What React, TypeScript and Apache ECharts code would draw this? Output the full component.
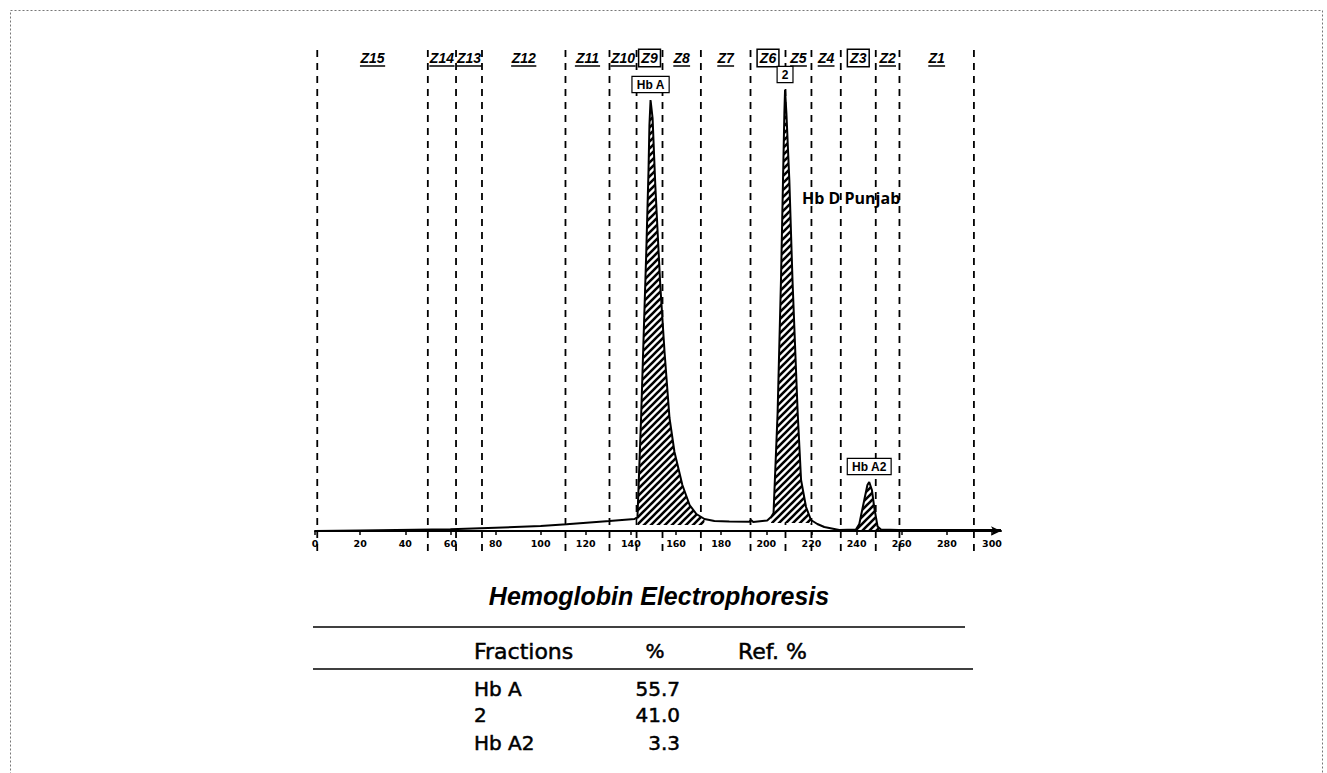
import { useEffect, useRef } from 'react';
import * as echarts from 'echarts';

// ---- data ----
const xTicks = [0, 20, 40, 60, 80, 100, 120, 140, 160, 180, 200, 220, 240, 260, 280, 300];
const zoneBounds = [1, 50, 62.5, 74, 111, 130.5, 142.5, 154, 171, 193, 208.5, 220, 233, 248.5, 259, 292];
const zoneLabels = ['Z15', 'Z14', 'Z13', 'Z12', 'Z11', 'Z10', 'Z9', 'Z8', 'Z7', 'Z6', 'Z5', 'Z4', 'Z3', 'Z2', 'Z1'];
const boxedZones = ['Z9', 'Z6', 'Z3'];

const traceX = [
  0, 20, 60, 80, 100, 111.5, 130.5, 141.6, 142.9, 144.5, 146.8, 147.8, 148.2, 148.7, 149.6, 150.8, 153.0,
  154.9, 157.1, 159.3, 162.8, 166.0, 169.0, 172.6, 177.0, 183.6, 192.5, 193.2, 194.2, 198.2, 200.4, 202.1,
  203.2, 205.0, 206.5, 207.4, 208.0, 208.3, 208.9, 210.2, 211.6, 213.9, 215.4, 217.6, 219.8, 222.6, 225.7,
  232.3, 239.7, 241.2, 243.4, 244.8, 245.6, 246.8, 247.8, 249.3, 250.8, 258.8, 304,
];
const traceY = [
  0, 0.5, 1.7, 3.3, 5, 6.7, 10, 12, 14, 113, 279, 361, 406, 431, 413, 346, 246,
  179, 113, 79, 46, 26, 17, 12, 10, 9.5, 9.3, 11, 9, 10, 10.5, 14,
  18, 118, 251, 351, 418, 441, 418, 351, 251, 118, 51, 24, 11, 7, 4,
  1, 1.5, 7, 31, 46, 49, 41, 24, 4.5, 1.5, 1, 1,
];

const peakNames = ['Hb A', '2', 'Hb A2'];
const peakStart = [142.9, 202.1, 239.7];
const peakEnd = [172.6, 219.8, 250.8];
const peakBase = [6, 8, 1];

const title = 'Hemoglobin Electrophoresis';
const variantName = 'Hb D Punjab';
const tableHeaders = ['Fractions', '%', 'Ref. %'];
const fractions = ['Hb A', '2', 'Hb A2'];
const percents = ['55.7', '41.0', '3.3'];

function makeHatch() {
  const P = 7;
  const c = document.createElement('canvas');
  c.width = P;
  c.height = P;
  const g = c.getContext('2d')!;
  g.fillStyle = '#ffffff';
  g.fillRect(0, 0, P, P);
  g.strokeStyle = '#000000';
  g.lineWidth = 2.6;
  g.beginPath();
  g.moveTo(-1, P + 1);
  g.lineTo(P + 1, -1);
  g.moveTo(-2, 2);
  g.lineTo(2, -2);
  g.moveTo(P - 2, P + 2);
  g.lineTo(P + 2, P - 2);
  g.stroke();
  return c;
}

export default function App() {
  const ref = useRef<HTMLDivElement>(null);

  useEffect(() => {
    if (!ref.current) return;
    const chart = echarts.init(ref.current, undefined, { renderer: 'svg' });
    const hatch = makeHatch();
    const trace = traceX.map((x, i) => [x, traceY[i]]);

    const fillSeries = peakNames.map((name, k) => ({
      type: 'line',
      name: name + ' fill',
      data: trace.filter((p) => p[0] >= peakStart[k] && p[0] <= peakEnd[k]),
      showSymbol: false,
      symbol: 'none',
      lineStyle: { width: 0, opacity: 0 },
      areaStyle: { color: { image: hatch, repeat: 'repeat' }, origin: peakBase[k], opacity: 1 },
      silent: true,
      z: 2,
    }));

    const peakTops = peakNames.map((name, k) => {
      const pts = trace.filter((p) => p[0] >= peakStart[k] && p[0] <= peakEnd[k]);
      let best = pts[0];
      pts.forEach((p) => {
        if (p[1] > best[1]) best = p;
      });
      return { value: [best[0], best[1]], name };
    });

    const zoneData = zoneLabels.map((l, i) => [(zoneBounds[i] + zoneBounds[i + 1]) / 2, i]);

    const heavy = { stroke: '#000', lineWidth: 0.5 };
    const rowY = [689, 715, 743];
    const tableTexts: any[] = [];
    tableTexts.push({ type: 'text', x: 474, y: 651, style: { text: tableHeaders[0], font: '22px "DejaVu Sans"', fill: '#000', ...heavy, align: 'left', verticalAlign: 'middle' } });
    tableTexts.push({ type: 'text', x: 655, y: 651, style: { text: tableHeaders[1], font: '20px "DejaVu Sans"', fill: '#000', ...heavy, align: 'center', verticalAlign: 'middle' } });
    tableTexts.push({ type: 'text', x: 738, y: 651, style: { text: tableHeaders[2], font: '22px "DejaVu Sans"', fill: '#000', ...heavy, align: 'left', verticalAlign: 'middle' } });
    fractions.forEach((f, i) => {
      tableTexts.push({ type: 'text', x: 474, y: rowY[i], style: { text: f, font: '20px "DejaVu Sans"', fill: '#000', ...heavy, align: 'left', verticalAlign: 'middle' } });
      tableTexts.push({ type: 'text', x: 680, y: rowY[i], style: { text: percents[i], font: '20px "DejaVu Sans"', fill: '#000', ...heavy, align: 'right', verticalAlign: 'middle' } });
    });

    chart.setOption({
      animation: false,
      backgroundColor: '#ffffff',
      grid: { left: 315, right: 326, top: 81, bottom: 242, containLabel: false, outerBoundsMode: 'none' },
      xAxis: {
        type: 'value',
        min: 0,
        max: 304,
        axisLine: {
          show: true,
          symbol: ['none', 'arrow'],
          symbolSize: [7, 10],
          lineStyle: { color: '#000', width: 2 },
        },
        axisTick: { show: true, customValues: xTicks, length: 4, lineStyle: { color: '#000', width: 1.5 } },
        axisLabel: {
          customValues: xTicks,
          color: '#000',
          fontSize: 9.5,
          fontWeight: 'bold',
          fontFamily: '"DejaVu Sans"',
          margin: 7,
        },
        splitLine: { show: false },
      },
      yAxis: { type: 'value', min: 0, max: 450, show: false },
      series: [
        ...fillSeries,
        {
          type: 'line',
          name: 'trace',
          data: trace,
          showSymbol: false,
          symbol: 'none',
          lineStyle: { color: '#000', width: 2 },
          z: 3,
          silent: true,
        },
        {
          type: 'scatter',
          name: 'peaks',
          data: peakTops,
          symbolSize: 0,
          z: 5,
          itemStyle: { opacity: 1, color: '#000' },
          label: {
            show: true,
            position: 'top',
            distance: 8,
            formatter: (p: any) => p.name,
            color: '#000',
            opacity: 1,
            fontSize: 12,
            fontWeight: 'bold',
            fontFamily: '"Liberation Sans"',
            backgroundColor: '#fff',
            borderColor: '#000',
            borderWidth: 1.2,
            padding: [2, 4, 1, 4],
          },
        },
        {
          type: 'custom',
          name: 'zones',
          data: zoneBounds.map((b) => [b, 0]),
          encode: { x: 0, y: 1 },
          clip: false,
          silent: true,
          z: 1,
          renderItem: (_params: any, api: any) => {
            const p = api.coord([api.value(0), 0]);
            return {
              type: 'line',
              shape: { x1: p[0], y1: p[1] - 481, x2: p[0], y2: p[1] + 25 },
              style: { stroke: '#000', lineWidth: 1.8, lineDash: [7, 6] },
            };
          },
        },
        {
          type: 'custom',
          name: 'zoneLabels',
          data: zoneData,
          encode: { x: 0, y: 1 },
          clip: false,
          silent: true,
          z: 4,
          renderItem: (_params: any, api: any) => {
            const idx = api.value(1);
            const label = zoneLabels[idx];
            const p = api.coord([api.value(0), 0]);
            const y = p[1] - 473;
            const boxed = boxedZones.indexOf(label) >= 0;
            const w = label.length * 8.4;
            const children: any[] = [
              {
                type: 'text',
                style: {
                  text: label,
                  x: p[0],
                  y,
                  align: 'center',
                  verticalAlign: 'middle',
                  font: 'italic bold 14px "Liberation Sans"',
                  fill: '#000',
                  ...(boxed
                    ? { borderColor: '#000', borderWidth: 1.5, padding: [2, 2, 0, 2], backgroundColor: '#fff' }
                    : {}),
                },
              },
            ];
            if (!boxed) {
              children.push({
                type: 'line',
                shape: { x1: p[0] - w / 2, y1: y + 8, x2: p[0] + w / 2, y2: y + 8 },
                style: { stroke: '#000', lineWidth: 1.5 },
              });
            }
            return { type: 'group', children };
          },
        },
      ],
      graphic: [
        {
          type: 'rect',
          shape: { x: 10.5, y: 10.5, width: 1312, height: 800 },
          style: { fill: 'none', stroke: '#777', lineWidth: 1, lineDash: [2, 2] },
          silent: true,
        },
        {
          type: 'text',
          x: 802,
          y: 198,
          style: { text: variantName, font: 'bold 16px "Open Sans"', fill: '#000', align: 'left', verticalAlign: 'middle' },
        },
        {
          type: 'text',
          x: 659,
          y: 596,
          style: { text: title, font: 'italic bold 25px "Liberation Sans"', fill: '#000', align: 'center', verticalAlign: 'middle' },
        },
        { type: 'line', shape: { x1: 313, y1: 627, x2: 965, y2: 627 }, style: { stroke: '#000', lineWidth: 1.5 } },
        { type: 'line', shape: { x1: 313, y1: 669, x2: 973, y2: 669 }, style: { stroke: '#000', lineWidth: 1.5 } },
        ...tableTexts,
      ],
    });

    return () => chart.dispose();
  }, []);

  return <div ref={ref} style={{ position: 'fixed', left: 0, top: 0, width: 1327, height: 773 }} />;
}
